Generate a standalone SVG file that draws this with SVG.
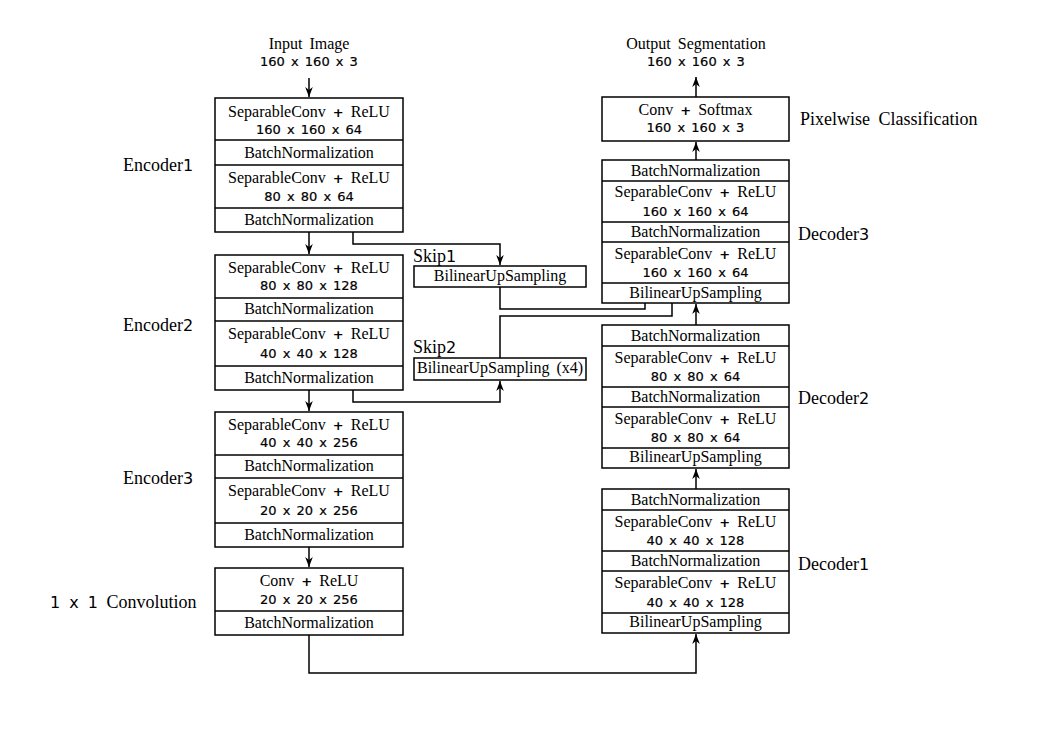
<svg xmlns="http://www.w3.org/2000/svg" width="1053" height="745" viewBox="0 0 1053 745">
  <defs>
    <marker id="arr" viewBox="-10 -5 11 10" refX="0" refY="0" markerWidth="11" markerHeight="10" markerUnits="userSpaceOnUse" orient="auto">
      <path d="M0,0 L-10,-3.8 L-7,0 L-10,3.8 Z" fill="#000"/>
    </marker>
    <style>
      rect { fill: #fff; stroke: #000; stroke-width: 1.5; }
      line.sep { stroke: #000; stroke-width: 1.5; }
      .wire { fill: none; stroke: #000; stroke-width: 1.5; }
      .t { font-family: "Liberation Serif", serif; font-size: 16px; text-anchor: middle; word-spacing: 3px; fill: #000; }
      .n { font-family: "DejaVu Sans", sans-serif; font-size: 13px; text-anchor: middle; word-spacing: 2px; fill: #000; stroke: #000; stroke-width: 0.2; }
      .p { font-family: "DejaVu Sans", sans-serif; font-size: 13px; font-weight: bold; }
      .lbl { font-family: "Liberation Serif", serif; font-size: 18px; word-spacing: 4px; fill: #000; }
      .d { font-family: "DejaVu Sans", sans-serif; font-size: 16px; }
    </style>
  </defs>

  <rect x="0" y="0" width="1053" height="745" style="fill:#fff;stroke:none"/>

  <!-- input caption -->
  <g id="input">
    <text class="t" x="309" y="49">Input Image</text>
    <text class="n" x="309" y="66">160 x 160 x 3</text>
  </g>

  <!-- Encoder 1 -->
  <g id="encoder1">
    <rect x="215" y="98" width="188" height="134"/>
    <line class="sep" x1="215" y1="140" x2="403" y2="140"/>
    <line class="sep" x1="215" y1="165" x2="403" y2="165"/>
    <line class="sep" x1="215" y1="208" x2="403" y2="208"/>
    <text class="t" x="309" y="117">SeparableConv <tspan class="p">+</tspan> ReLU</text>
    <text class="n" x="309" y="134">160 x 160 x 64</text>
    <text class="t" x="309" y="158">BatchNormalization</text>
    <text class="t" x="309" y="183">SeparableConv <tspan class="p">+</tspan> ReLU</text>
    <text class="n" x="309" y="201">80 x 80 x 64</text>
    <text class="t" x="309" y="225">BatchNormalization</text>
    <text class="lbl" x="123" y="171">Encoder<tspan class="d">1</tspan></text>
  </g>

  <!-- Encoder 2 -->
  <g id="encoder2">
    <rect x="215" y="255" width="188" height="135"/>
    <line class="sep" x1="215" y1="298" x2="403" y2="298"/>
    <line class="sep" x1="215" y1="321" x2="403" y2="321"/>
    <line class="sep" x1="215" y1="366" x2="403" y2="366"/>
    <text class="t" x="309" y="273">SeparableConv <tspan class="p">+</tspan> ReLU</text>
    <text class="n" x="309" y="290">80 x 80 x 128</text>
    <text class="t" x="309" y="314">BatchNormalization</text>
    <text class="t" x="309" y="339">SeparableConv <tspan class="p">+</tspan> ReLU</text>
    <text class="n" x="309" y="358">40 x 40 x 128</text>
    <text class="t" x="309" y="383">BatchNormalization</text>
    <text class="lbl" x="123" y="331">Encoder<tspan class="d">2</tspan></text>
  </g>

  <!-- Encoder 3 -->
  <g id="encoder3">
    <rect x="215" y="412" width="188" height="135"/>
    <line class="sep" x1="215" y1="455" x2="403" y2="455"/>
    <line class="sep" x1="215" y1="478" x2="403" y2="478"/>
    <line class="sep" x1="215" y1="523" x2="403" y2="523"/>
    <text class="t" x="309" y="430">SeparableConv <tspan class="p">+</tspan> ReLU</text>
    <text class="n" x="309" y="447">40 x 40 x 256</text>
    <text class="t" x="309" y="471">BatchNormalization</text>
    <text class="t" x="309" y="496">SeparableConv <tspan class="p">+</tspan> ReLU</text>
    <text class="n" x="309" y="515">20 x 20 x 256</text>
    <text class="t" x="309" y="540">BatchNormalization</text>
    <text class="lbl" x="123" y="484">Encoder<tspan class="d">3</tspan></text>
  </g>

  <!-- 1 x 1 convolution -->
  <g id="conv1x1">
    <rect x="215" y="568" width="188" height="67"/>
    <line class="sep" x1="215" y1="611" x2="403" y2="611"/>
    <text class="t" x="309" y="586">Conv <tspan class="p">+</tspan> ReLU</text>
    <text class="n" x="309" y="604">20 x 20 x 256</text>
    <text class="t" x="309" y="628">BatchNormalization</text>
    <text class="lbl" x="50" y="608"><tspan class="d">1 x 1</tspan> Convolution</text>
  </g>

  <!-- Skip branches -->
  <g id="skip1">
    <rect x="414" y="266" width="172" height="21"/>
    <text class="t" x="500" y="281">BilinearUpSampling</text>
    <text class="lbl" x="413" y="262">Skip<tspan class="d">1</tspan></text>
  </g>
  <g id="skip2">
    <rect x="414" y="358" width="172" height="22"/>
    <text class="t" x="500" y="373">BilinearUpSampling (x4)</text>
    <text class="lbl" x="413" y="353">Skip<tspan class="d">2</tspan></text>
  </g>

  <!-- Decoder 1 -->
  <g id="decoder1">
    <rect x="602" y="489" width="187" height="144"/>
    <line class="sep" x1="602" y1="510" x2="789" y2="510"/>
    <line class="sep" x1="602" y1="551" x2="789" y2="551"/>
    <line class="sep" x1="602" y1="571" x2="789" y2="571"/>
    <line class="sep" x1="602" y1="613" x2="789" y2="613"/>
    <text class="t" x="695.5" y="505">BatchNormalization</text>
    <text class="t" x="695.5" y="527">SeparableConv <tspan class="p">+</tspan> ReLU</text>
    <text class="n" x="695.5" y="545">40 x 40 x 128</text>
    <text class="t" x="695.5" y="566">BatchNormalization</text>
    <text class="t" x="695.5" y="588">SeparableConv <tspan class="p">+</tspan> ReLU</text>
    <text class="n" x="695.5" y="607">40 x 40 x 128</text>
    <text class="t" x="695.5" y="627">BilinearUpSampling</text>
    <text class="lbl" x="798" y="570">Decoder<tspan class="d">1</tspan></text>
  </g>

  <!-- Decoder 2 -->
  <g id="decoder2">
    <rect x="602" y="325" width="187" height="143"/>
    <line class="sep" x1="602" y1="346" x2="789" y2="346"/>
    <line class="sep" x1="602" y1="387" x2="789" y2="387"/>
    <line class="sep" x1="602" y1="407" x2="789" y2="407"/>
    <line class="sep" x1="602" y1="448" x2="789" y2="448"/>
    <text class="t" x="695.5" y="341">BatchNormalization</text>
    <text class="t" x="695.5" y="363">SeparableConv <tspan class="p">+</tspan> ReLU</text>
    <text class="n" x="695.5" y="381">80 x 80 x 64</text>
    <text class="t" x="695.5" y="402">BatchNormalization</text>
    <text class="t" x="695.5" y="424">SeparableConv <tspan class="p">+</tspan> ReLU</text>
    <text class="n" x="695.5" y="442">80 x 80 x 64</text>
    <text class="t" x="695.5" y="462">BilinearUpSampling</text>
    <text class="lbl" x="798" y="404">Decoder<tspan class="d">2</tspan></text>
  </g>

  <!-- Decoder 3 -->
  <g id="decoder3">
    <rect x="602" y="160" width="187" height="143"/>
    <line class="sep" x1="602" y1="181" x2="789" y2="181"/>
    <line class="sep" x1="602" y1="222" x2="789" y2="222"/>
    <line class="sep" x1="602" y1="242" x2="789" y2="242"/>
    <line class="sep" x1="602" y1="283" x2="789" y2="283"/>
    <text class="t" x="695.5" y="176">BatchNormalization</text>
    <text class="t" x="695.5" y="197">SeparableConv <tspan class="p">+</tspan> ReLU</text>
    <text class="n" x="695.5" y="216">160 x 160 x 64</text>
    <text class="t" x="695.5" y="237">BatchNormalization</text>
    <text class="t" x="695.5" y="259">SeparableConv <tspan class="p">+</tspan> ReLU</text>
    <text class="n" x="695.5" y="277">160 x 160 x 64</text>
    <text class="t" x="695.5" y="298">BilinearUpSampling</text>
    <text class="lbl" x="798" y="240">Decoder<tspan class="d">3</tspan></text>
  </g>

  <!-- Pixelwise classification head -->
  <g id="classifier">
    <rect x="602" y="97" width="187" height="44"/>
    <text class="t" x="695.5" y="115">Conv <tspan class="p">+</tspan> Softmax</text>
    <text class="n" x="695.5" y="132">160 x 160 x 3</text>
    <text class="lbl" x="800" y="125">Pixelwise Classification</text>
  </g>

  <!-- output caption -->
  <g id="output">
    <text class="t" x="696" y="49">Output Segmentation</text>
    <text class="n" x="696" y="66">160 x 160 x 3</text>
  </g>

  <!-- connectors -->
  <g id="connectors">
    <path class="wire" d="M309,78 V97" marker-end="url(#arr)"/>
    <path class="wire" d="M309,232 V254" marker-end="url(#arr)"/>
    <path class="wire" d="M309,390 V411" marker-end="url(#arr)"/>
    <path class="wire" d="M309,547 V567" marker-end="url(#arr)"/>
    <path class="wire" d="M309,635 V673 H696 V634" marker-end="url(#arr)"/>
    <path class="wire" d="M696,489 V469" marker-end="url(#arr)"/>
    <path class="wire" d="M696,325 V304" marker-end="url(#arr)"/>
    <path class="wire" d="M696,160 V142" marker-end="url(#arr)"/>
    <path class="wire" d="M696,97 V77" marker-end="url(#arr)"/>
    <path class="wire" d="M353,232 V244 H500 V265" marker-end="url(#arr)"/>
    <path class="wire" d="M353,390 V402 H500 V381" marker-end="url(#arr)"/>
    <path class="wire" d="M500,287 V309 H645 V303"/>
    <path class="wire" d="M500,358 V316 H672 V303"/>
  </g>
</svg>
